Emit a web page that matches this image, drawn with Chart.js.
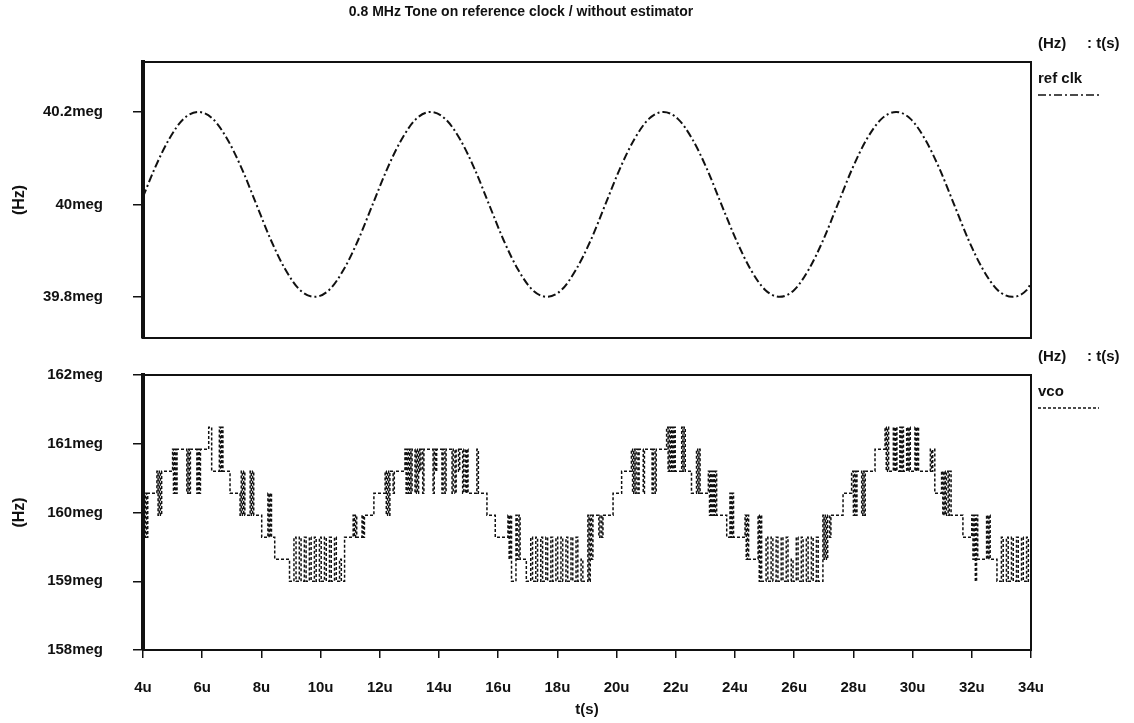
<!DOCTYPE html>
<html>
<head>
<meta charset="utf-8">
<script src="https://cdn.jsdelivr.net/npm/chart.js@4/dist/chart.umd.min.js"></script>
<style>
  body { margin: 0; background: #fff; width: 1134px; height: 723px; position: relative; overflow: hidden; }
  canvas { position: absolute; left: 0; }
</style>
</head>
<body>
<canvas id="ref" width="1134" height="345" style="top:0"></canvas>
<canvas id="vco" width="1134" height="378" style="top:345px"></canvas>
<script>
const chartTitle = '0.8 MHz Tone on reference clock / without estimator';
const refTicks = [39.8, 40, 40.2];
const vcoTicks = [158, 159, 160, 161, 162];

// ref clk (Hz, in meg)
const refT = [4.0, 4.39, 4.88, 5.37, 5.86, 6.36, 6.85, 7.34, 7.83, 8.32, 8.81, 9.30, 9.80,
  10.29, 10.78, 11.27, 11.76, 12.25, 12.74, 13.23, 13.72, 14.21, 14.71, 15.20, 15.69,
  16.18, 16.67, 17.16, 17.65, 18.14, 18.63, 19.13, 19.62, 20.11, 20.60, 21.09, 21.58,
  22.07, 22.56, 23.05, 23.54, 24.04, 24.53, 25.02, 25.51, 26.00, 26.49, 26.98, 27.47,
  27.96, 28.45, 28.95, 29.44, 29.93, 30.42, 30.91, 31.40, 31.89, 32.38, 32.87, 33.37, 33.86, 34.0];
const refF = [40.016,
  40.077, 40.141, 40.185, 40.2, 40.185, 40.141, 40.077, 40, 39.923, 39.859, 39.815, 39.8, 39.815, 39.859, 39.923, 40,
  40.077, 40.141, 40.185, 40.2, 40.185, 40.141, 40.077, 40, 39.923, 39.859, 39.815, 39.8, 39.815, 39.859, 39.923, 40,
  40.077, 40.141, 40.185, 40.2, 40.185, 40.141, 40.077, 40, 39.923, 39.859, 39.815, 39.8, 39.815, 39.859, 39.923, 40,
  40.077, 40.141, 40.185, 40.2, 40.185, 40.141, 40.077, 40, 39.923, 39.859, 39.815, 39.8, 39.815,
  39.83];

// vco (Hz, in meg): stepped trace, each value holds from its time to the next
const vcoT = [
  4.00, 4.04, 4.08, 4.12, 4.16, 4.47, 4.51, 4.55, 4.59, 4.63,
  5.00, 5.03, 5.07, 5.11, 5.15, 5.48, 5.52, 5.56, 5.60, 5.82, 5.86, 5.90, 5.94,
  6.22, 6.32, 6.58, 6.62, 6.66, 6.70, 6.94,
  7.28, 7.32, 7.36, 7.40, 7.44, 7.62, 7.66, 7.70, 7.74,
  8.01, 8.22, 8.26, 8.30, 8.34, 8.45, 8.95,
  9.10, 9.17, 9.28, 9.34, 9.45, 9.51, 9.62, 9.68, 9.79, 9.85, 9.96,
  10.02, 10.13, 10.19, 10.30, 10.36, 10.47, 10.53, 10.64, 10.70, 10.81,
  11.10, 11.14, 11.18, 11.22, 11.40, 11.44, 11.48, 11.80,
  12.18, 12.22, 12.26, 12.30, 12.34, 12.45, 12.49,
  12.85, 12.89, 12.93, 12.97, 13.01, 13.05, 13.09,
  13.19, 13.23, 13.27, 13.31, 13.35, 13.39, 13.45, 13.49,
  13.80, 13.84, 13.88, 13.92, 14.10, 14.14, 14.20, 14.24,
  14.44, 14.48, 14.54, 14.58, 14.66, 14.70, 14.80, 14.84, 14.90, 14.94, 14.98,
  15.28, 15.33, 15.62, 15.90,
  16.33, 16.37, 16.41, 16.45, 16.60, 16.64, 16.70, 16.74, 16.95,
  17.10, 17.16, 17.27, 17.33, 17.44, 17.50, 17.61, 17.67, 17.78, 17.84, 17.95,
  18.01, 18.12, 18.18, 18.29, 18.35, 18.46, 18.52, 18.63, 18.69, 18.80, 18.86,
  19.03, 19.07, 19.11, 19.15, 19.20, 19.40, 19.44, 19.50, 19.54, 19.88, 20.17,
  20.50, 20.54, 20.58, 20.62, 20.66, 20.72, 20.76, 20.90, 20.94, 21.20, 21.24, 21.30, 21.34,
  21.69, 21.74, 21.78, 21.82, 21.86, 21.90, 21.94, 21.98, 22.20, 22.24, 22.28, 22.32,
  22.53, 22.70, 22.74, 22.78, 22.82,
  23.10, 23.14, 23.18, 23.22, 23.26, 23.30, 23.34, 23.38,
  23.72, 23.83, 23.87, 23.91, 23.95,
  24.34, 24.38, 24.42, 24.46, 24.78, 24.82, 24.86, 24.90,
  25.05, 25.11, 25.22, 25.28, 25.39, 25.45, 25.56, 25.62, 25.73, 25.79, 25.90,
  25.96, 26.07, 26.13, 26.24, 26.30, 26.41, 26.47, 26.58, 26.64, 26.75, 26.81,
  26.97, 27.01, 27.05, 27.09, 27.13, 27.20, 27.24, 27.65, 27.94,
  28.00, 28.04, 28.08, 28.12, 28.28, 28.32, 28.36, 28.40, 28.73,
  29.07, 29.11, 29.15, 29.19, 29.35, 29.39, 29.43, 29.47, 29.57, 29.61,
  29.65, 29.69, 29.80, 29.84, 29.88, 29.92, 30.08, 30.12, 30.16, 30.20,
  30.60, 30.64, 30.68, 30.75, 30.98, 31.02, 31.06, 31.10, 31.14, 31.20, 31.24, 31.30,
  31.70, 32.00, 32.04, 32.08, 32.12, 32.16, 32.20, 32.50, 32.54, 32.58, 32.62, 32.85,
  33.00, 33.06, 33.17, 33.23, 33.34, 33.40, 33.51, 33.57, 33.68, 33.74, 33.85, 33.91, 34.00];
const vcoF = [
  160.28, 159.64, 160.28, 159.64, 160.28, 160.6, 159.96, 160.6, 159.96, 160.6,
  160.92, 160.28, 160.92, 160.28, 160.92, 160.28, 160.92, 160.28, 160.92, 160.28, 160.92, 160.28, 160.92,
  161.24, 160.6, 161.24, 160.6, 161.24, 160.6, 160.28,
  159.96, 160.6, 159.96, 160.6, 159.96, 160.6, 159.96, 160.6, 159.96,
  159.64, 160.28, 159.64, 160.28, 159.64, 159.32, 159,
  159.64, 159, 159.64, 159, 159.64, 159, 159.64, 159, 159.64, 159, 159.64,
  159, 159.64, 159, 159.64, 159, 159.64, 159, 159.32, 159, 159.64,
  159.96, 159.64, 159.96, 159.64, 159.96, 159.64, 159.96, 160.28,
  160.6, 159.96, 160.6, 159.96, 160.6, 160.28, 160.6,
  160.92, 160.28, 160.92, 160.28, 160.92, 160.28, 160.92,
  160.28, 160.92, 160.28, 160.92, 160.6, 160.92, 160.28, 160.92,
  160.28, 160.92, 160.6, 160.92, 160.28, 160.92, 160.28, 160.92,
  160.28, 160.92, 160.28, 160.92, 160.6, 160.92, 160.28, 160.92, 160.28, 160.92, 160.28,
  160.92, 160.28, 159.96, 159.64,
  159.96, 159.32, 159.96, 159, 159.96, 159.32, 159.96, 159.32, 159,
  159.64, 159, 159.64, 159, 159.64, 159, 159.64, 159, 159.64, 159, 159.64,
  159, 159.64, 159, 159.64, 159, 159.64, 159, 159.64, 159, 159.32, 159,
  159.96, 159, 159.96, 159.32, 159.96, 159.64, 159.96, 159.64, 159.96, 160.28, 160.6,
  160.92, 160.28, 160.92, 160.28, 160.92, 160.28, 160.92, 160.28, 160.92, 160.28, 160.92, 160.28, 160.92,
  161.24, 160.6, 161.24, 160.6, 161.24, 160.6, 161.24, 160.6, 161.24, 160.6, 161.24, 160.6,
  160.28, 160.92, 160.28, 160.92, 160.28,
  160.6, 159.96, 160.6, 159.96, 160.6, 159.96, 160.6, 159.96,
  159.64, 160.28, 159.64, 160.28, 159.64,
  159.96, 159.32, 159.96, 159.32, 159.96, 159, 159.96, 159,
  159.64, 159, 159.64, 159, 159.64, 159, 159.64, 159, 159.64, 159, 159.32,
  159, 159.64, 159, 159.64, 159, 159.64, 159, 159.64, 159, 159.64, 159,
  159.96, 159.32, 159.96, 159.32, 159.96, 159.64, 159.96, 160.28, 160.6,
  159.96, 160.6, 159.96, 160.6, 159.96, 160.6, 159.96, 160.6, 160.92,
  161.24, 160.6, 161.24, 160.6, 161.24, 160.6, 161.24, 160.6, 161.24, 160.6,
  161.24, 160.6, 161.24, 160.6, 161.24, 160.6, 161.24, 160.6, 161.24, 160.6,
  160.92, 160.6, 160.92, 160.28, 160.6, 159.96, 160.6, 159.96, 160.6, 159.96, 160.6, 159.96,
  159.64, 159.96, 159.32, 159.96, 159, 159.96, 159.32, 159.96, 159.32, 159.96, 159.32, 159,
  159.64, 159, 159.64, 159, 159.64, 159, 159.64, 159, 159.64, 159, 159.64, 159, 159];

if (vcoT.length !== vcoF.length) console.log('vco length mismatch', vcoT.length, vcoF.length);
if (refT.length !== refF.length) console.log('ref length mismatch', refT.length, refF.length);

const ink = '#111';
const family = '"Liberation Sans", Arial, sans-serif';
const boldFont = (size) => ({ family: family, size: size, weight: 'bold' });

// box round the plot area
const frame = {
  id: 'frame',
  afterDatasetsDraw(chart) {
    const { ctx, chartArea: a } = chart;
    ctx.save();
    ctx.strokeStyle = ink;
    ctx.lineWidth = 2;
    ctx.strokeRect(a.left, a.top, a.right - a.left, a.bottom - a.top);
    ctx.restore();
  }
};

// "(Hz) : t(s)" header, trace name and line sample at the right of each plot
const sideLegend = {
  id: 'sideLegend',
  afterDraw(chart) {
    const { ctx, chartArea: a } = chart;
    const ds = chart.data.datasets[0];
    const x = a.right + 7;
    ctx.save();
    ctx.fillStyle = ink;
    ctx.textBaseline = 'middle';
    ctx.font = 'bold 15px ' + family;
    ctx.fillText('(Hz)', x, a.top - 18);
    ctx.fillText(': t(s)', x + 49, a.top - 18);
    ctx.fillText(ds.label, x, a.top + 17);
    ctx.strokeStyle = ink;
    ctx.lineWidth = 1.5;
    ctx.setLineDash(ds.borderDash);
    ctx.beginPath();
    ctx.moveTo(x, a.top + 33);
    ctx.lineTo(x + 61, a.top + 33);
    ctx.stroke();
    ctx.restore();
  }
};

const pageTitle = {
  id: 'pageTitle',
  afterDraw(chart) {
    const ctx = chart.ctx;
    ctx.save();
    ctx.fillStyle = ink;
    ctx.font = 'bold 14px ' + family;
    ctx.textAlign = 'center';
    ctx.textBaseline = 'middle';
    ctx.fillText(chartTitle, 521, 12);
    ctx.restore();
  }
};

function noPad(s) {
  s.paddingLeft = 0; s.paddingRight = 0; s.paddingTop = 0; s.paddingBottom = 0;
}

function yAxis(min, max, tickValues) {
  return {
    type: 'linear',
    min: min,
    max: max,
    afterBuildTicks: s => { s.ticks = tickValues.map(v => ({ value: v })); },
    afterFit: s => { s.width = 143; noPad(s); },
    ticks: { callback: v => v + 'meg', color: ink, font: boldFont(15), padding: 30 },
    grid: { drawOnChartArea: false, tickLength: 10, color: ink, lineWidth: 1.5 },
    border: { color: ink, width: 4 },
    title: { display: true, text: '(Hz)', color: ink, font: boldFont(16), padding: { top: 10 } }
  };
}

new Chart(document.getElementById('ref'), {
  type: 'line',
  data: {
    datasets: [{
      label: 'ref clk',
      data: refT.map((t, i) => ({ x: t, y: refF[i] })),
      borderColor: ink,
      borderWidth: 2,
      borderDash: [8, 3, 2, 3],
      pointRadius: 0,
      cubicInterpolationMode: 'monotone',
      fill: false
    }]
  },
  options: {
    responsive: false,
    animation: false,
    layout: { padding: { top: 62, right: 103, bottom: 7, left: 0 } },
    plugins: { legend: { display: false }, tooltip: { enabled: false } },
    scales: {
      x: { type: 'linear', min: 4, max: 34, display: false },
      y: yAxis(39.711, 40.308, refTicks)
    }
  },
  plugins: [frame, sideLegend, pageTitle]
});

new Chart(document.getElementById('vco'), {
  type: 'line',
  data: {
    datasets: [{
      label: 'vco',
      data: vcoT.map((t, i) => ({ x: t, y: vcoF[i] })),
      borderColor: ink,
      borderWidth: 1.5,
      borderDash: [3, 2],
      pointRadius: 0,
      stepped: true,
      fill: false
    }]
  },
  options: {
    responsive: false,
    animation: false,
    layout: { padding: { top: 30, right: 103, bottom: 0, left: 0 } },
    plugins: { legend: { display: false }, tooltip: { enabled: false } },
    scales: {
      x: {
        type: 'linear',
        min: 4,
        max: 34,
        afterFit: s => { s.height = 73; noPad(s); },
        ticks: { stepSize: 2, callback: v => v + 'u', color: ink, font: boldFont(15), padding: 21, maxRotation: 0 },
        grid: { drawOnChartArea: false, tickLength: 8, color: ink, lineWidth: 1.5 },
        border: { color: ink, width: 2 },
        title: { display: true, text: 't(s)', color: ink, font: boldFont(15), padding: { bottom: 4 } }
      },
      y: yAxis(158, 162, vcoTicks)
    }
  },
  plugins: [frame, sideLegend]
});
</script>
</body>
</html>
